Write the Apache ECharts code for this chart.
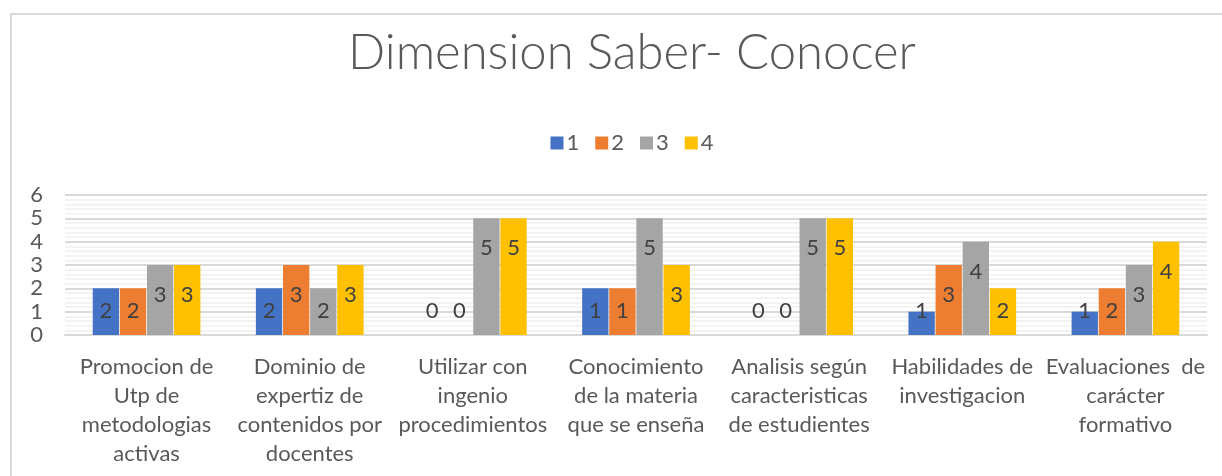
<!DOCTYPE html>
<html>
<head>
<meta charset="utf-8">
<script src="https://cdn.jsdelivr.net/npm/echarts@6/dist/echarts.min.js"></script>
<style>
  html, body { margin: 0; padding: 0; background: #fff; overflow: hidden; }
  #main {
    position: absolute; left: 10px; top: 13px; width: 1240px; height: 463px;
    border-left: 2px solid #d9d9d9; border-top: 2px solid #d9d9d9;
  }
</style>
</head>
<body>
<div id="main"></div>
<script>
// categorias del eje x
var categories = [
  'Promocion de\nUtp de\nmetodologias\nactivas',
  'Dominio de\nexpertiz de\ncontenidos por\ndocentes',
  'Utilizar con\ningenio\nprocedimientos',
  'Conocimiento\nde la materia\nque se enseña',
  'Analisis según\ncaracteristicas\nde estudientes',
  'Habilidades de\ninvestigacion',
  'Evaluaciones  de\ncarácter\nformativo'
];
var seriesNames = ['1', '2', '3', '4'];

// altura de las barras
var values1 = [2, 2, 0, 2, 0, 1, 1];
var values2 = [2, 3, 0, 2, 0, 3, 2];
var values3 = [3, 2, 5, 5, 5, 4, 3];
var values4 = [3, 3, 5, 3, 5, 2, 4];

// etiquetas escritas en las barras
var labels1 = [2, 2, 0, 1, 0, 1, 1];
var labels2 = [2, 3, 0, 1, 0, 3, 2];
var labels3 = [3, 2, 5, 5, 5, 4, 3];
var labels4 = [3, 3, 5, 3, 5, 2, 4];

var yTicks = [0, 1, 2, 3, 4, 5, 6];
var colors = ['#4472C4', '#ED7D31', '#A5A5A5', '#FFC000'];

var font = 'Lato, "Open Sans", sans-serif';
var allValues = [values1, values2, values3, values4];
var allLabels = [labels1, labels2, labels3, labels4];

var series = seriesNames.map(function (name, i) {
  return {
    name: name,
    type: 'bar',
    data: allValues[i],
    barGap: '3%',
    barCategoryGap: '34%',
    itemStyle: { color: colors[i] },
    label: {
      show: true,
      position: 'inside',
      fontFamily: font,
      fontSize: 22,
      color: '#404040',
      formatter: function (p) { return allLabels[i][p.dataIndex]; }
    },
    labelLayout: function (p) {
      var r = p.rect;
      return {
        x: r.x + r.width / 2,
        y: Math.min(r.y + 30, r.y + r.height - 24),
        align: 'center',
        verticalAlign: 'middle'
      };
    }
  };
});

var myChart = echarts.init(document.getElementById('main'));
myChart.setOption({
  animation: false,
  color: colors,
  title: {
    text: 'Dimension Saber- Conocer',
    left: 'center',
    top: 9,
    textStyle: { fontFamily: font, fontWeight: 300, fontSize: 49, color: '#595959' }
  },
  legend: {
    data: seriesNames,
    top: 112,
    left: 'center',
    itemWidth: 13,
    itemHeight: 13,
    itemGap: 16,
    icon: 'rect',
    textStyle: { fontFamily: font, fontSize: 22, color: '#595959', padding: [0, 0, 0, -2] }
  },
  grid: { left: 53, right: 45, top: 180, bottom: 143, containLabel: false },
  xAxis: {
    type: 'category',
    data: categories,
    axisTick: { show: false },
    axisLine: { lineStyle: { color: '#d9d9d9', width: 2 } },
    axisLabel: {
      interval: 0, margin: 17, lineHeight: 29,
      fontFamily: font, fontSize: 22, color: '#595959'
    }
  },
  yAxis: {
    type: 'value',
    min: yTicks[0],
    max: yTicks[yTicks.length - 1],
    interval: 1,
    axisLine: { show: false },
    axisTick: { show: false },
    axisLabel: { margin: 22, fontFamily: font, fontSize: 22, color: '#595959' },
    splitLine: { lineStyle: { color: '#d9d9d9', width: 2 } },
    minorTick: { show: false, splitNumber: 5 },
    minorSplitLine: { show: true, lineStyle: { color: '#efefef', width: 1.5 } }
  },
  series: series
});
</script>
</body>
</html>
